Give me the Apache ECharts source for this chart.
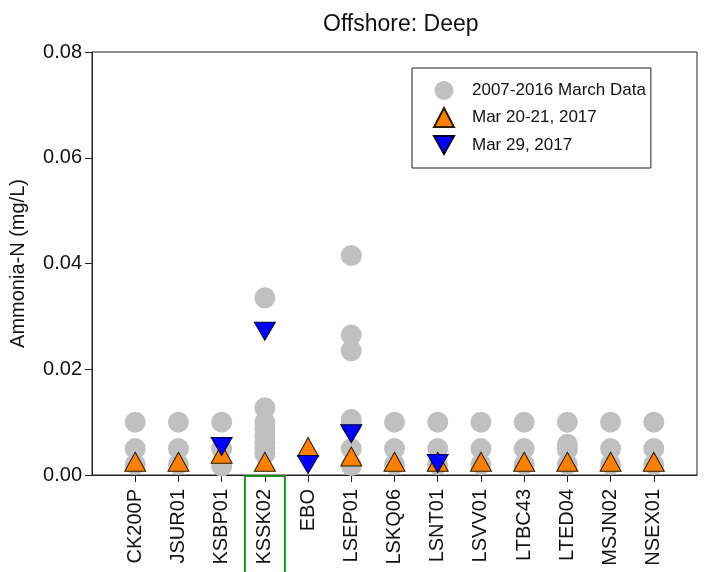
<!DOCTYPE html>
<html>
<head>
<meta charset="utf-8">
<script src="https://cdn.jsdelivr.net/npm/echarts@6/dist/echarts.min.js"></script>
<style>
  html, body { margin: 0; padding: 0; background: #fff; }
  #chart { width: 704px; height: 572px; }
</style>
</head>
<body>
<div id="chart"></div>
<script>
// Stations, in plotting order (positions 1..13 on the x axis)
const stations = ['CK200P', 'JSUR01', 'KSBP01', 'KSSK02', 'EBO', 'LSEP01', 'LSKQ06',
                  'LSNT01', 'LSVV01', 'LTBC43', 'LTED04', 'MSJN02', 'NSEX01'];

// 2007-2016 March ammonia-N values per station (mg/L)
const histCK200P = [0.010, 0.005, 0.002];
const histJSUR01 = [0.010, 0.005, 0.002];
const histKSBP01 = [0.010, 0.005, 0.0017];
const histKSSK02 = [0.0335, 0.0127, 0.0100, 0.0088, 0.0075, 0.0062, 0.0050, 0.0040];
const histEBO    = [];
const histLSEP01 = [0.0415, 0.0265, 0.0235, 0.0105, 0.0095, 0.005, 0.0018];
const histLSKQ06 = [0.010, 0.005, 0.002];
const histLSNT01 = [0.010, 0.005, 0.002];
const histLSVV01 = [0.010, 0.005, 0.002];
const histLTBC43 = [0.010, 0.005, 0.002];
const histLTED04 = [0.010, 0.0058, 0.0048, 0.002];
const histMSJN02 = [0.010, 0.005, 0.002];
const histNSEX01 = [0.010, 0.005, 0.002];
const historic = [histCK200P, histJSUR01, histKSBP01, histKSSK02, histEBO, histLSEP01, histLSKQ06,
                  histLSNT01, histLSVV01, histLTBC43, histLTED04, histMSJN02, histNSEX01];

// Mar 20-21, 2017 survey
const mar2021 = [0.0025, 0.0025, 0.004, 0.0025, 0.0053, 0.0035, 0.0025,
                 0.0025, 0.0025, 0.0025, 0.0025, 0.0025, 0.0025];
// Mar 29, 2017 survey (null = not sampled)
const mar29 = [null, null, 0.0054, 0.0272, 0.0020, 0.0078, null,
               0.0022, null, null, null, null, null];

// Category axis with an empty slot at each end so stations sit one step in from the frame
const xCats = [''].concat(stations, ['']);

const histData = [];
historic.forEach((vals, i) => vals.forEach(v => histData.push([i + 1, v])));
const orangeData = mar2021.map((v, i) => [i + 1, v]);
const blueData = [];
mar29.forEach((v, i) => { if (v !== null) blueData.push([i + 1, v]); });

const FONT = 'Arial, "Liberation Sans", Helvetica, sans-serif';
const downTri = 'path://M0,0 L20,0 L10,18 Z';

const chart = echarts.init(document.getElementById('chart'), null, { renderer: 'canvas' });

chart.setOption({
  animation: false,
  backgroundColor: '#ffffff',
  title: {
    text: 'Offshore: Deep',
    left: 318,
    top: 8,
    textStyle: { fontFamily: FONT, fontSize: 23, fontWeight: 'normal', color: '#111' }
  },
  grid: {
    left: 92, right: 7, top: 52, bottom: 97,
    outerBoundsMode: 'none',
    containLabel: false,
    show: true, borderColor: '#222', borderWidth: 1, backgroundColor: 'transparent'
  },
  legend: {
    orient: 'vertical',
    left: 412, top: 68,
    padding: [13, 5, 13, 21],
    itemWidth: 20, itemHeight: 19, itemGap: 7,
    borderColor: '#222', borderWidth: 1,
    textStyle: { fontFamily: FONT, fontSize: 17, color: '#111', padding: [0, 0, 0, 13] },
    data: ['2007-2016 March Data', 'Mar 20-21, 2017', 'Mar 29, 2017']
  },
  xAxis: {
    type: 'category',
    data: xCats,
    boundaryGap: false,
    axisLine: { show: true, lineStyle: { color: '#222', width: 1 } },
    axisTick: {
      show: true, inside: false, length: 7,
      interval: (idx, val) => val !== '',
      lineStyle: { color: '#222' }
    },
    axisLabel: {
      interval: 0, rotate: 90, margin: 14,
      fontFamily: FONT, fontSize: 20, color: '#111'
    },
    splitLine: { show: false }
  },
  yAxis: {
    type: 'value',
    min: 0, max: 0.08, interval: 0.02,
    name: 'Ammonia-N (mg/L)',
    nameLocation: 'middle',
    nameRotate: 90,
    nameGap: 64,
    nameTextStyle: { fontFamily: FONT, fontSize: 20, color: '#111' },
    axisLine: { show: true, lineStyle: { color: '#222', width: 1 } },
    axisTick: { show: true, inside: false, length: 7, lineStyle: { color: '#222' } },
    axisLabel: {
      margin: 10, fontFamily: FONT, fontSize: 20, color: '#111',
      formatter: v => v.toFixed(2)
    },
    splitLine: { show: false }
  },
  series: [
    {
      name: '2007-2016 March Data',
      type: 'scatter',
      symbol: 'circle',
      symbolSize: 21,
      itemStyle: { color: '#c0c0c0', opacity: 1 },
      data: histData,
      z: 2
    },
    {
      name: 'Mar 20-21, 2017',
      type: 'scatter',
      symbol: 'triangle',
      symbolSize: [21, 19],
      itemStyle: { color: '#ff8000', borderColor: '#2a1a00', borderWidth: 1, opacity: 1 },
      data: orangeData,
      z: 3
    },
    {
      name: 'Mar 29, 2017',
      type: 'scatter',
      symbol: downTri,
      symbolSize: [21, 18],
      itemStyle: { color: '#0000ff', borderColor: '#000030', borderWidth: 1, opacity: 1 },
      data: blueData,
      z: 4
    }
  ]
});

// Green box highlighting the KSSK02 station label
const kIdx = stations.indexOf('KSSK02') + 1;
const kx = chart.convertToPixel({ xAxisIndex: 0 }, kIdx);
const yBase = chart.convertToPixel({ yAxisIndex: 0 }, 0);
chart.setOption({
  graphic: [{
    type: 'rect',
    shape: { x: kx - 20, y: yBase + 1, width: 40, height: 572 - yBase + 4 },
    style: { fill: 'none', stroke: '#1e8c1e', lineWidth: 2 },
    z: 10
  }]
});
</script>
</body>
</html>
